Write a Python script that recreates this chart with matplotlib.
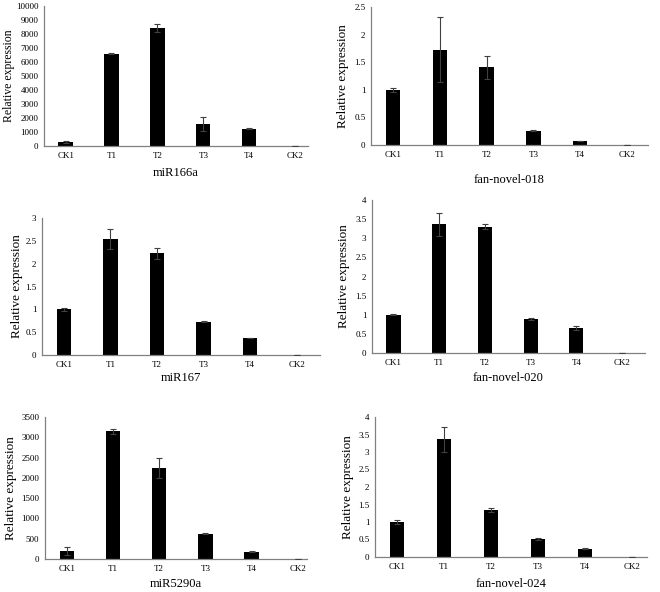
import numpy as np
import matplotlib.pyplot as plt

plt.rcParams['font.family'] = ['Liberation Serif', 'DejaVu Serif']

groups = ['CK1', 'T1', 'T2', 'T3', 'T4', 'CK2']

names = ['miR166a', 'fan-novel-018', 'miR167', 'fan-novel-020', 'miR5290a', 'fan-novel-024']

mir166a = [280, 6600, 8450, 1570, 1240, 0]
mir166a_err = [80, 50, 280, 480, 60, 0]
novel018 = [1.0, 1.73, 1.41, 0.26, 0.073, 0]
novel018_err = [0.04, 0.59, 0.21, 0.01, 0.005, 0]
mir167 = [1.0, 2.54, 2.23, 0.73, 0.37, 0]
mir167_err = [0.04, 0.21, 0.12, 0.01, 0.005, 0]
novel020 = [1.0, 3.37, 3.30, 0.89, 0.65, 0]
novel020_err = [0.01, 0.30, 0.07, 0.02, 0.05, 0]
mir5290a = [206, 3146, 2250, 626, 181, 0]
mir5290a_err = [100, 70, 250, 20, 10, 0]
novel024 = [1.0, 3.36, 1.34, 0.51, 0.24, 0.01]
novel024_err = [0.05, 0.35, 0.05, 0.02, 0.01, 0]

values = [mir166a, novel018, mir167, novel020, mir5290a, novel024]
errors = [mir166a_err, novel018_err, mir167_err, novel020_err, mir5290a_err, novel024_err]
yticks = [np.arange(0, 10001, 1000), np.arange(0, 2.51, 0.5), np.arange(0, 3.01, 0.5),
          np.arange(0, 4.01, 0.5), np.arange(0, 3501, 500), np.arange(0, 4.01, 0.5)]

W, H = 660, 592
# left, top, right, bottom in pixels, plus right xlim
boxes = [(44, 6, 308, 146, 5.28), (371, 7, 648, 145, 5.45),
         (42, 218, 320, 355, 5.5), (372, 200, 645, 353, 5.5),
         (45, 417, 307, 559, 5.2), (375, 417, 647, 557, 5.32)]
ylab_x = [3, 337, 11, 338, 5, 342]
ylab_size = [8.5, 9.5, 9.5, 9.5, 9.5, 9.5]
xlab_y = [173, 180, 378, 378, 584, 584]

fig = plt.figure(figsize=(W / 100, H / 100), dpi=100)

for i in range(6):
    l, t, r, b, xr = boxes[i]
    ax = fig.add_axes([l / W, 1 - b / H, (r - l) / W, (b - t) / H])
    x = np.arange(len(groups))
    ax.bar(x, values[i], width=0.31, color='black', zorder=2)
    ax.errorbar(x, values[i], yerr=errors[i], fmt='none', ecolor='#404040',
                elinewidth=0.8, capsize=2, capthick=0.8, zorder=3)
    ax.set_xlim(-0.47, xr)
    ax.set_ylim(0, yticks[i][-1])
    ax.set_yticks(yticks[i])
    ax.set_yticklabels([('%g' % v) for v in yticks[i]])
    ax.set_xticks(x)
    ax.set_xticklabels(groups)
    ax.tick_params(length=0, labelsize=6.5, pad=4)
    for s in ['top', 'right']:
        ax.spines[s].set_visible(False)
    for s in ['left', 'bottom']:
        ax.spines[s].set_color('#808080')
        ax.spines[s].set_linewidth(0.9)
    fig.text(ylab_x[i] / W, 1 - ((t + b) / 2) / H, 'Relative expression',
             rotation=90, ha='left', va='center', fontsize=ylab_size[i])
    fig.text(((l + r) / 2) / W, 1 - xlab_y[i] / H, names[i],
             ha='center', va='center', fontsize=9)

fig.savefig('out.png', dpi=100)
